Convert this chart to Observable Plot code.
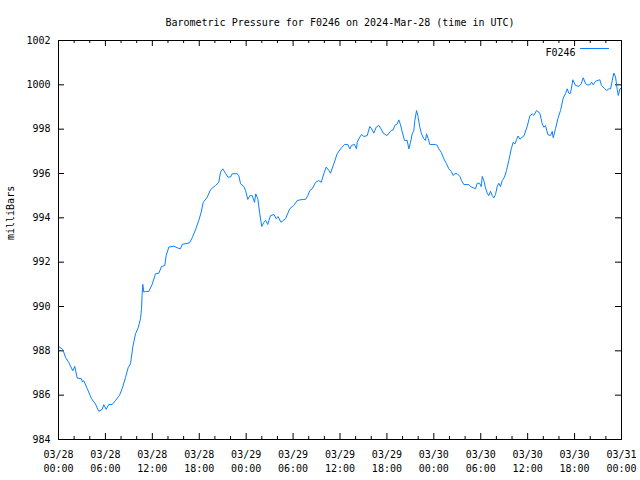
<!DOCTYPE html>
<html><head><meta charset="utf-8">
<script src="https://cdn.jsdelivr.net/npm/d3@7"></script>
<script src="https://cdn.jsdelivr.net/npm/@observablehq/plot@0.6"></script>
<style>body{margin:0;background:#fff} svg{display:block}</style>
</head><body><div id="chart"></div>
<script>
// Hours after 2024-03-28 00:00 UTC
const hours = [0.00,0.55,0.90,1.32,1.83,2.08,2.39,2.94,3.03,3.24,3.67,4.22,4.73,5.15,5.59,5.79,6.10,6.43,6.87,7.29,7.80,8.15,8.57,8.91,9.21,9.50,9.85,10.19,10.49,10.62,10.70,10.78,10.91,11.13,11.55,11.98,12.41,12.83,13.17,13.59,13.77,14.11,14.75,15.18,15.60,15.82,16.75,17.10,17.52,17.94,18.25,18.51,19.02,19.44,20.08,20.50,20.72,21.01,21.36,21.65,22.00,22.22,22.85,23.06,23.28,23.70,23.92,24.21,24.47,24.77,25.07,25.23,25.49,25.74,25.99,26.26,26.51,26.76,27.11,27.56,27.84,28.07,28.46,29.03,29.58,30.09,30.53,31.17,31.59,31.88,32.14,32.45,32.87,33.29,33.60,33.93,34.24,34.57,34.79,35.21,35.64,36.07,36.58,37.00,37.25,37.47,37.86,38.11,38.20,38.53,38.75,39.05,39.48,39.81,40.03,40.32,40.63,40.96,41.18,41.53,42.01,42.55,42.81,43.01,43.32,43.52,43.74,43.96,44.25,44.60,44.80,45.02,45.24,45.44,45.57,45.79,45.95,46.21,46.42,46.72,46.94,47.07,47.28,47.49,48.22,48.44,48.64,48.95,49.28,49.62,49.92,50.22,50.48,50.65,50.99,51.32,51.54,51.84,52.48,52.69,53.11,53.33,53.55,53.84,54.06,54.19,54.39,54.61,54.83,55.03,55.25,55.47,55.67,55.89,56.10,56.31,56.53,56.75,57.04,57.30,57.59,57.90,58.15,58.36,58.57,58.77,59.02,59.30,59.53,59.94,60.28,60.58,60.79,61.13,61.56,61.86,62.07,62.28,62.58,62.92,63.14,63.27,63.56,63.86,64.20,64.55,64.84,65.06,65.27,65.48,65.78,66.12,66.55,66.85,67.11,67.40,67.62,67.95,68.17,68.38,68.68,69.23,69.45,69.87,70.09,70.38,70.60,70.82,71.02,71.24,71.46,71.59,71.80,72.00];
const pressure = [988.20,988.06,987.70,987.47,987.10,987.30,986.77,986.74,986.60,986.65,986.30,985.84,985.60,985.27,985.36,985.57,985.36,985.58,985.58,985.76,985.99,986.30,986.80,987.24,987.42,988.17,988.77,989.04,989.45,989.90,990.57,991.00,990.65,990.68,990.68,991.00,991.48,991.50,991.80,991.85,992.30,992.68,992.72,992.65,992.60,992.80,992.87,993.10,993.46,993.88,994.26,994.70,994.93,995.27,995.46,995.60,996.06,996.21,996.01,995.84,995.84,995.99,995.99,995.90,995.54,995.41,995.23,994.83,995.00,995.00,994.70,995.08,994.86,994.18,993.61,993.80,993.88,993.70,994.10,994.15,993.96,994.06,993.80,993.96,994.41,994.56,994.78,994.83,994.83,995.00,995.23,995.31,995.60,995.68,995.60,995.99,996.29,996.14,996.01,996.44,996.89,997.11,997.31,997.31,997.11,997.27,997.31,997.11,997.41,997.64,997.76,997.67,997.71,998.12,998.02,997.82,998.09,998.17,998.05,997.82,997.71,997.94,997.97,998.17,998.24,998.42,998.20,997.87,997.49,997.49,997.11,997.41,997.79,997.94,998.39,998.84,998.62,998.09,997.79,997.57,997.49,997.79,997.57,997.31,997.31,997.27,997.11,996.96,996.66,996.44,996.21,996.10,995.91,995.99,995.99,995.87,995.68,995.50,995.50,995.41,995.35,995.31,995.56,995.56,995.41,995.87,995.68,995.35,995.11,995.00,995.20,995.00,994.90,995.05,995.41,995.56,995.41,995.68,995.84,996.14,996.59,997.11,997.41,997.33,997.52,997.69,997.55,997.64,997.70,998.12,998.60,998.69,998.62,998.84,998.72,998.24,998.09,998.16,997.76,997.71,997.90,997.61,998.02,998.47,998.84,999.41,999.60,999.82,999.62,999.62,1000.23,999.97,999.93,1000.05,1000.32,1000.05,1000.00,1000.00,1000.12,1000.00,1000.16,1000.23,999.97,999.82,999.74,999.82,999.82,1000.20,1000.53,1000.35,999.78,999.52,999.82,999.85];

const xTickDates = ["03/28","03/28","03/28","03/28","03/29","03/29","03/29","03/29","03/30","03/30","03/30","03/30","03/31"];
const xTickTimes = ["00:00","06:00","12:00","18:00","00:00","06:00","12:00","18:00","00:00","06:00","12:00","18:00","00:00"];
const yTicks = [984,986,988,990,992,994,996,998,1000,1002];

const title = "Barometric Pressure for F0246 on 2024-Mar-28 (time in UTC)";
const yLabel = "milliBars";
const seriesName = "F0246";
const year = 2024;

const t0 = Date.UTC(year, 2, 28);
const data = hours.map((h, i) => ({date: new Date(t0 + h * 3600e3), value: pressure[i]}));
const majorTicks = xTickDates.map((d, i) => {
  const [mo, da] = d.split("/").map(Number);
  const [hh, mm] = xTickTimes[i].split(":").map(Number);
  return new Date(Date.UTC(year, mo - 1, da, hh, mm));
});
const labelOf = new Map(majorTicks.map((d, i) => [+d, xTickDates[i] + "\n" + xTickTimes[i]]));
const start = majorTicks[0], end = majorTicks[majorTicks.length - 1];
const minorTicks = d3.utcHour.every(2).range(start, end).filter(d => !labelOf.has(+d));

const W = 640, H = 480, mL = 58, mR = 19, mT = 40, mB = 41;
const fw = W - mL - mR, fh = H - mT - mB;
const lineColor = "#0a80ff";

const chart = Plot.plot({
  width: W, height: H,
  marginLeft: mL, marginRight: mR, marginTop: mT, marginBottom: mB,
  style: {fontFamily: "'DejaVu Sans Mono', monospace", fontSize: "10px", background: "#fff", color: "#000"},
  x: {type: "utc", domain: [start, end]},
  y: {domain: [yTicks[0], yTicks[yTicks.length - 1]]},
  marks: [
    Plot.axisX(majorTicks, {tickSize: 0, tickPadding: 9, lineHeight: 1.4, tickFormat: d => labelOf.get(+d), label: null}),
    Plot.axisY(yTicks, {tickSize: 0, tickPadding: 8, tickFormat: d => String(d), label: null}),
    Plot.tickX(minorTicks, {x: d => d, insetTop: fh - 3, stroke: "#000"}),
    Plot.tickX(majorTicks, {x: d => d, insetTop: fh - 6, stroke: "#000"}),
    Plot.tickX(minorTicks, {x: d => d, insetBottom: fh - 3, stroke: "#000"}),
    Plot.tickX(majorTicks, {x: d => d, insetBottom: fh - 6, stroke: "#000"}),
    Plot.tickY(yTicks, {y: d => d, insetRight: fw - 6, stroke: "#000"}),
    Plot.tickY(yTicks, {y: d => d, insetLeft: fw - 6, stroke: "#000"}),
    Plot.line(data, {x: "date", y: "value", stroke: lineColor, strokeWidth: 1}),
    Plot.frame({stroke: "#000"}),
    Plot.text([title], {frameAnchor: "top", dy: -22}),
    Plot.text([yLabel], {frameAnchor: "left", dx: -48, rotate: -90}),
    Plot.text([seriesName], {frameAnchor: "top-right", dx: -46, dy: 8, textAnchor: "end"})
  ]
});

// legend swatch
d3.select(chart).append("line")
  .attr("x1", W - mR - 41).attr("x2", W - mR - 12)
  .attr("y1", mT + 8.5).attr("y2", mT + 8.5)
  .attr("stroke", lineColor).attr("stroke-width", 1);

document.getElementById("chart").append(chart);
</script>
</body></html>
